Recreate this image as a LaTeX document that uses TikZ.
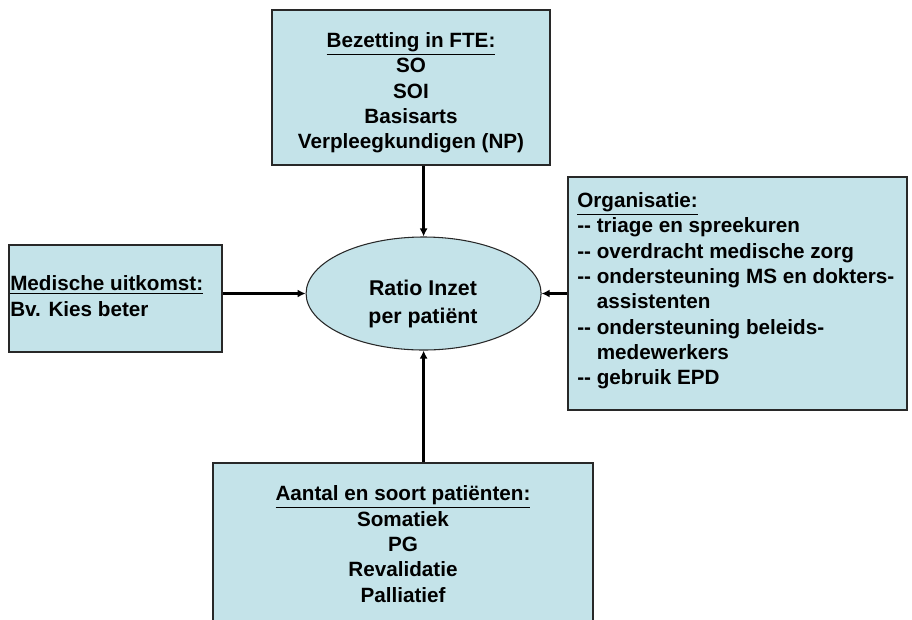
\documentclass[tikz,border=0pt]{standalone}
\usepackage{fontspec}
\setmainfont{Liberation Sans}
\usetikzlibrary{shapes.geometric,arrows.meta,positioning}

\definecolor{boxblue}{RGB}{196,227,233}
\definecolor{boxline}{RGB}{40,40,40}

\tikzset{
  infobox/.style={draw=boxline, fill=boxblue, line width=0.8pt, inner sep=0pt},
  infotext/.style={font=\fontsize{15.5}{19}\selectfont\bfseries, inner sep=0pt},
  arrowline/.style={line width=2.2pt, -{Latex[length=6pt,width=6pt]}}
}

\begin{document}
\begin{tikzpicture}[x=0.75pt,y=-0.75pt]
\useasboundingbox (0,0) rectangle (912,619);
\clip (0,0) rectangle (912,619);

% top box
\node[infobox, minimum width=208.5pt, minimum height=116.25pt] (fte) at (411,87.5) {};
\node[infotext, align=center] (ftetext) at (411,93)
  {\underline{Bezetting in FTE:}\\ SO\\ SOI\\ Basisarts\\ Verpleegkundigen (NP)};

% right box
\node[infobox, minimum width=254.25pt, minimum height=174.75pt] (org) at (737.5,293.5) {};
\node[infotext, align=left, anchor=west] (orgtext) at (577,291)
  {\underline{Organisatie:}\\
   -{}- triage en spreekuren\\
   -{}- overdracht medische zorg\\
   -{}- ondersteuning MS en dokters-\\
   \hphantom{-{}- }assistenten\\
   -{}- ondersteuning beleids-\\
   \hphantom{-{}- }medewerkers\\
   -{}- gebruik EPD};

% left box
\node[infobox, minimum width=159.75pt, minimum height=80.25pt] (uitkomst) at (115.5,298.5) {};
\node[infotext, align=left, anchor=west] (uitkomsttext) at (10,296)
  {\underline{Medische uitkomst:}\\ Bv. Kies beter};

% bottom box
\node[infobox, minimum width=285pt, minimum height=147.75pt] (patienten) at (403,561.5) {};
\node[infotext, align=center] (patiententext) at (403,544)
  {\underline{Aantal en soort patiënten:}\\ Somatiek\\ PG\\ Revalidatie\\ Palliatief};

% centre
\node[ellipse, draw=boxline, fill=boxblue, line width=0.8pt,
  minimum width=176.25pt, minimum height=84.75pt, inner sep=0pt] (ratio) at (423.6,293.5) {};
\node[font=\fontsize{16}{21}\selectfont\bfseries, align=center, inner sep=0pt]
  (ratiotext) at (423,304) {Ratio Inzet\\ per patiënt};

\draw[arrowline] (fte.south -| ratio) -- (ratio);
\draw[arrowline] (uitkomst.east |- ratio) -- (ratio);
\draw[arrowline] (org.west |- ratio) -- (ratio);
\draw[arrowline] (patienten.north -| ratio) -- (ratio);
\end{tikzpicture}
\end{document}
